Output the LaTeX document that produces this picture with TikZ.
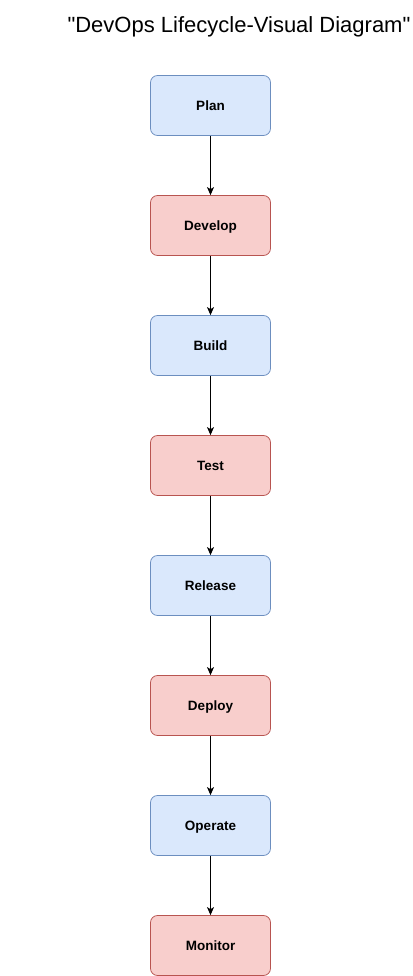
\documentclass[tikz,border=0pt]{standalone}
\usepackage{fontspec}
\setmainfont{Liberation Sans}
\newfontfamily\titlefont{Liberation Sans}
\usetikzlibrary{arrows.meta}
\definecolor{bfill}{HTML}{DAE8FC}
\definecolor{bdraw}{HTML}{6C8EBF}
\definecolor{rfill}{HTML}{F8CECC}
\definecolor{rdraw}{HTML}{B85450}
\tikzset{
  stage/.style={rounded corners=7pt, minimum width=120pt, minimum height=60pt, line width=0.75pt, font=\fontsize{13.5}{16}\selectfont\bfseries, inner sep=0pt, text height=11pt, text depth=1.3pt},
  bluebox/.style={stage, fill=bfill, draw=bdraw},
  redbox/.style={stage, fill=rfill, draw=rdraw},
  flow/.style={line width=1pt, -{Stealth[length=8pt,width=7pt,inset=2pt]}},
}
\begin{document}
\begin{tikzpicture}[x=1pt,y=-1pt]
\useasboundingbox (0,0) rectangle (412,976);
\node[font=\titlefont\fontsize{22}{26}\selectfont, anchor=center] (title) at (239,27) {"DevOps Lifecycle-Visual Diagram"};
\node[bluebox] (plan) at (210.5,105.5) {Plan};
\node[redbox] (develop) at (210.5,225.5) {Develop};
\node[bluebox] (build) at (210.5,345.5) {Build};
\node[redbox] (test) at (210.5,465.5) {Test};
\node[bluebox] (release) at (210.5,585.5) {Release};
\node[redbox] (deploy) at (210.5,705.5) {Deploy};
\node[bluebox] (operate) at (210.5,825.5) {Operate};
\node[redbox] (monitor) at (210.5,945.5) {Monitor};
\draw[flow] (plan) -- (develop);
\draw[flow] (develop) -- (build);
\draw[flow] (build) -- (test);
\draw[flow] (test) -- (release);
\draw[flow] (release) -- (deploy);
\draw[flow] (deploy) -- (operate);
\draw[flow] (operate) -- (monitor);
\end{tikzpicture}
\end{document}
